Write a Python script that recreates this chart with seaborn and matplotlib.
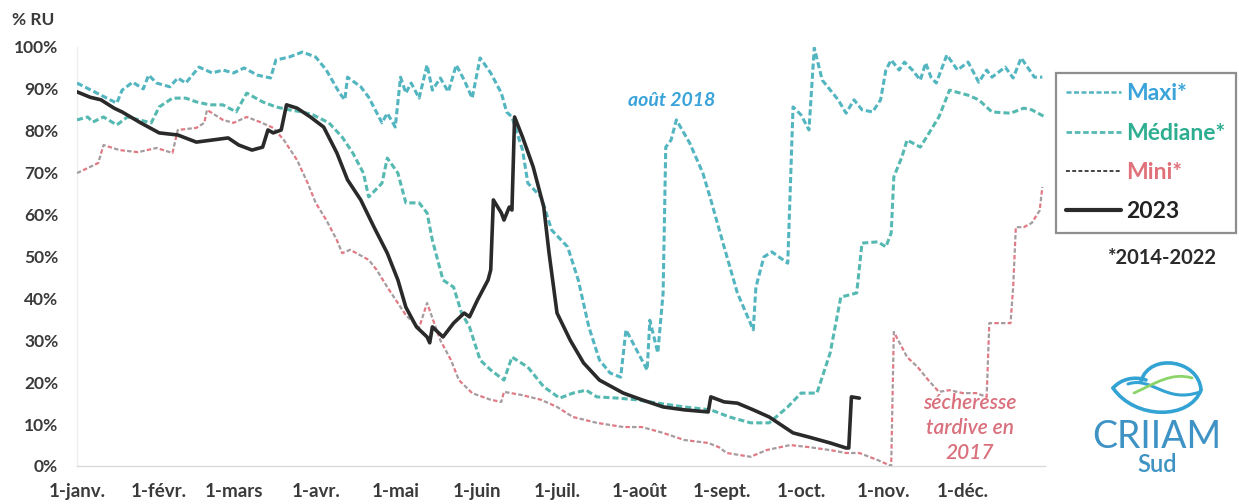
import matplotlib
matplotlib.use("Agg")
import matplotlib.pyplot as plt
import seaborn as sns
from matplotlib.lines import Line2D
from matplotlib.path import Path
from matplotlib.patches import PathPatch

# ---------------- data ----------------
month_labels = ["1-janv.", "1-févr.", "1-mars", "1-avr.", "1-mai", "1-juin",
                "1-juil.", "1-août", "1-sept.", "1-oct.", "1-nov.", "1-déc."]
month_days = [0, 31, 59, 90, 120, 151, 181, 212, 243, 273, 304, 334]
y_ticks = [0, 10, 20, 30, 40, 50, 60, 70, 80, 90, 100]
y_labels = ["0%", "10%", "20%", "30%", "40%", "50%", "60%", "70%", "80%", "90%", "100%"]

maxi_day = [0, 15, 17, 21, 25, 27, 30, 35, 38, 41, 46, 51, 55, 59, 63, 68, 73, 75, 80, 85,
            90, 94, 99, 101, 102, 107, 110, 115, 117, 120, 122, 124, 126, 129, 132, 134,
            137, 140, 143, 146, 149, 152, 156, 160, 162, 164, 168, 170, 175, 179, 185, 189,
            193, 197, 201, 205, 207, 211, 215, 216, 219, 221, 222, 224, 226, 231, 236, 239,
            244, 249, 255, 256, 259, 262, 268, 270, 273, 276, 278, 281, 287, 290, 293, 296,
            300, 303, 305, 307, 310, 312, 315, 318, 320, 322, 324, 328, 332, 336, 340, 343,
            345, 350, 353, 356, 361, 364]
maxi_val = [91.4, 86.6, 89.7, 91.6, 90.0, 93.3, 91.4, 90.5, 92.6, 91.4, 95.2, 93.8, 94.5, 93.8,
            95.0, 93.3, 92.6, 96.9, 97.6, 98.8, 97.6, 94.5, 89.0, 87.4, 92.8, 90.5, 88.0, 81.9,
            84.2, 80.9, 92.8, 89.0, 91.4, 87.8, 95.7, 89.7, 92.6, 89.3, 95.7, 92.1, 87.8, 97.4,
            93.8, 89.0, 84.5, 83.3, 75.4, 67.5, 64.2, 56.3, 52.3, 44.4, 33.2, 25.3, 22.2, 21.2,
            32.5, 27.7, 22.9, 34.8, 27.0, 41.3, 76.1, 77.8, 82.6, 77.1, 69.9, 63.5, 52.3, 41.3,
            32.5, 42.7, 49.9, 51.1, 48.4, 85.7, 83.8, 80.2, 99.8, 92.1, 87.4, 84.2, 87.4, 85.0,
            84.5, 87.4, 94.5, 96.9, 94.5, 96.4, 94.5, 92.1, 96.2, 92.8, 91.4, 98.1, 94.5, 96.4,
            91.6, 94.5, 92.8, 95.2, 92.6, 97.4, 92.8, 92.8]

med_day = [0, 4, 6, 10, 15, 19, 28, 31, 36, 41, 45, 50, 55, 60, 64, 70, 75, 80, 85, 89, 95,
           100, 104, 108, 110, 115, 117, 121, 124, 129, 132, 134, 138, 142, 145, 148, 152,
           156, 161, 164, 170, 176, 182, 187, 192, 196, 204, 211, 219, 229, 239, 246, 254,
           261, 268, 273, 279, 284, 288, 294, 296, 302, 305, 307, 308, 311, 313, 318, 325,
           329, 336, 340, 345, 352, 357, 360, 365]
med_val = [82.6, 83.3, 82.1, 83.3, 81.4, 83.3, 81.9, 85.7, 87.8, 87.8, 86.9, 86.2, 86.2, 84.5,
           89.0, 86.9, 85.7, 85.0, 84.5, 83.8, 81.9, 78.5, 74.7, 69.9, 64.2, 67.5, 73.5, 69.9,
           62.8, 62.8, 60.4, 53.9, 44.4, 42.7, 36.5, 33.2, 25.3, 22.9, 20.5, 26.0, 23.6, 18.9,
           16.2, 17.4, 18.1, 16.5, 16.2, 15.8, 15.0, 14.1, 13.4, 11.7, 10.3, 10.3, 14.1, 17.4,
           17.4, 27.0, 40.3, 41.3, 53.2, 53.5, 52.3, 55.6, 69.0, 73.7, 77.8, 76.1, 83.3, 89.7,
           88.5, 87.4, 84.5, 84.2, 85.4, 85.0, 83.3]

mini_day = [0, 8, 10, 16, 23, 30, 36, 38, 45, 48, 49, 55, 59, 64, 69, 74, 78, 83, 87, 90, 94,
            98, 100, 103, 110, 113, 117, 124, 129, 132, 137, 141, 144, 149, 156, 160, 161, 168,
            175, 181, 187, 196, 206, 213, 221, 229, 238, 242, 245, 254, 260, 269, 276, 284,
            290, 295, 302, 307, 308, 313, 317, 321, 325, 329, 334, 339, 343, 344, 352, 353,
            354, 357, 360, 363, 364]
mini_val = [69.9, 72.3, 76.6, 75.4, 74.9, 75.9, 74.7, 80.2, 80.7, 81.9, 85.0, 82.6, 81.9, 83.3,
            82.1, 80.7, 77.8, 73.0, 67.5, 62.8, 58.7, 53.9, 50.8, 51.6, 49.2, 46.8, 42.7, 36.0,
            33.0, 38.9, 30.0, 25.3, 20.5, 17.4, 15.8, 15.3, 17.7, 16.9, 15.8, 14.1, 11.7, 10.3,
            9.3, 9.3, 7.9, 6.2, 5.5, 4.5, 3.1, 2.2, 3.8, 5.0, 4.5, 3.8, 3.1, 3.1, 1.4, 0.0,
            32.0, 26.0, 23.6, 20.5, 17.7, 18.1, 17.4, 17.4, 16.5, 34.1, 34.1, 42.7, 57.0, 57.0,
            58.0, 61.0, 66.6]

y2023_day = [0, 5, 9, 14, 17, 24, 31, 38, 45, 51, 57, 61, 66, 70, 72, 74, 77, 79, 83, 88, 93,
             98, 102, 107, 112, 117, 121, 124, 128, 132, 133, 134, 138, 142, 146, 148, 151,
             155, 156, 157, 160, 161, 163, 164, 165, 168, 172, 176, 178, 181, 186, 191, 197,
             206, 213, 221, 229, 238, 239, 244, 249, 255, 261, 270, 276, 284, 290, 291, 292, 295]
y2023_val = [89.3, 88.0, 87.4, 85.4, 84.5, 81.9, 79.5, 79.0, 77.3, 77.8, 78.3, 76.6, 75.4, 76.1,
             80.2, 79.5, 80.2, 86.2, 85.4, 83.3, 80.9, 74.7, 68.3, 63.5, 57.0, 50.8, 44.4, 37.9,
             33.2, 30.8, 29.4, 33.2, 30.8, 34.1, 36.5, 35.6, 39.6, 44.4, 46.8, 63.5, 60.4, 58.7,
             61.8, 61.1, 83.3, 78.5, 71.4, 61.8, 50.8, 36.5, 30.0, 24.6, 20.5, 17.4, 15.8, 14.1,
             13.4, 12.9, 16.5, 15.3, 15.0, 13.4, 11.7, 7.9, 6.9, 5.5, 4.3, 4.3, 16.5, 16.2]

# ---------------- style ----------------
sns.set_theme(style="white")
plt.rcParams["font.family"] = ["Lato", "DejaVu Sans"]

W, H = 1239, 504
C_MAXI = "#52B5C0"
C_MED = "#55B9B2"
C_MINI_G = "#A49C9E"
C_MINI_P = "#E07A84"
C_2023 = "#2A2A2A"
T_MAXI = "#3AA3DA"
T_MED = "#2EAE90"
T_MINI = "#E0717B"
TXT = "#3A3A3A"


def fx(px):
    return px / W


def fy(py):
    return 1 - py / H


fig = plt.figure(figsize=(W / 100, H / 100), dpi=100)
fig.patch.set_facecolor("white")
ax = fig.add_axes([fx(77), fy(466), 968 / W, 419 / H])

sns.lineplot(x=maxi_day, y=maxi_val, ax=ax, color=C_MAXI, linewidth=2.2,
             linestyle=(0, (2.0, 1.0)), zorder=3)
sns.lineplot(x=med_day, y=med_val, ax=ax, color=C_MED, linewidth=2.2,
             linestyle=(0, (2.0, 1.0)), zorder=3)
sns.lineplot(x=mini_day, y=mini_val, ax=ax, color=C_MINI_G, linewidth=1.6,
             linestyle=(0, (2.0, 4.0)), zorder=3)
sns.lineplot(x=mini_day, y=mini_val, ax=ax, color=C_MINI_P, linewidth=1.6,
             linestyle=(3.0, (2.0, 4.0)), zorder=3)
sns.lineplot(x=y2023_day, y=y2023_val, ax=ax, color=C_2023, linewidth=2.6,
             linestyle="-", zorder=4)

ax.set_xlim(0, 365)
ax.set_ylim(0, 100)
ax.set_xticks(month_days)
ax.set_xticklabels(month_labels)
ax.set_yticks(y_ticks)
ax.set_yticklabels(y_labels)
ax.set_xlabel("")
ax.set_ylabel("")
ax.tick_params(axis="both", length=0, colors=TXT)
ax.tick_params(axis="y", pad=13.5, labelsize=12.5)
ax.tick_params(axis="x", pad=12, labelsize=13.5)
for lab in ax.get_xticklabels() + ax.get_yticklabels():
    lab.set_fontweight("bold")
for s in ["top", "right"]:
    ax.spines[s].set_visible(False)
ax.spines["left"].set_color("#EFEFEF")
ax.spines["bottom"].set_color("#DADADA")
ax.spines["left"].set_linewidth(1)
ax.spines["bottom"].set_linewidth(1)
ax.grid(False)

# ---------------- texts ----------------
fig.text(fx(12), fy(20), "% RU", fontsize=12.5, fontweight="bold", color=TXT,
         ha="left", va="center")
fig.text(fx(628), fy(101), "août 2018", fontsize=14, fontweight="bold", style="italic",
         color=T_MAXI, ha="left", va="center")
for txt, yy in [("sécheresse", 403), ("tardive en", 428), ("2017", 453)]:
    fig.text(fx(970), fy(yy), txt, fontsize=15, fontweight="semibold", style="italic",
             color="#D9707C", ha="center", va="center")
fig.text(fx(1162), fy(258), "*2014-2022", fontsize=14.5, fontweight="bold", color="#2A2A2A",
         ha="center", va="center")

# ---------------- legend ----------------
handles = [
    Line2D([], [], color=C_MAXI, linewidth=1.8, linestyle=(0, (2.0, 1.0))),
    Line2D([], [], color=C_MED, linewidth=2.0, linestyle=(0, (2.0, 1.0))),
    Line2D([], [], color="#444444", linewidth=1.4, linestyle=(0, (2.0, 1.2))),
    Line2D([], [], color=C_2023, linewidth=3.0, linestyle="-"),
]
labels = ["Maxi*", "Médiane*", "Mini*", "2023"]
leg = ax.legend(handles, labels, loc="upper left",
                bbox_to_anchor=(fx(1056), fy(73)), bbox_transform=fig.transFigure,
                frameon=True, fancybox=False, edgecolor="#8E8E8E", framealpha=1,
                prop={"size": 16.5, "weight": "bold"}, handlelength=2.4,
                handletextpad=0.22, labelspacing=0.8, borderpad=0.45,
                borderaxespad=0)
leg.get_frame().set_linewidth(1.6)
for t, c in zip(leg.get_texts(), [T_MAXI, T_MED, T_MINI, "#222222"]):
    t.set_color(c)

# ---------------- logo ----------------
LOGO = "#3E93C4"
LEAF = "#32A3D3"


def bez(points, color, lw):
    pts = [(fx(x), fy(y)) for x, y in points]
    codes = [Path.MOVETO] + [Path.CURVE4] * (len(pts) - 1)
    fig.add_artist(PathPatch(Path(pts, codes), facecolor="none", edgecolor=color,
                             linewidth=lw, transform=fig.transFigure, capstyle="round"))


bez([(1113, 388), (1135, 420), (1190, 420), (1201, 390)], LEAF, 2.6)
bez([(1201, 390), (1199, 360), (1150, 352), (1141, 381)], LEAF, 2.6)
bez([(1113, 388), (1121, 379), (1134, 376), (1146, 380)], LEAF, 2.6)
bez([(1128, 384), (1152, 376), (1165, 404), (1200, 392)], LEAF, 2.2)
bez([(1134, 393), (1156, 383), (1172, 372), (1192, 378)], "#8BD46A", 2.0)
fig.text(fx(1157), fy(437), "CRIIAM", fontsize=27, color=LOGO, ha="center", va="center",
         family=["Lato", "DejaVu Sans"])
fig.text(fx(1157), fy(465), "Sud", fontsize=17, fontweight="semibold", color=LOGO,
         ha="center", va="center", family=["Lato", "DejaVu Sans"])

fig.savefig("out.png", dpi=100, facecolor="white")
